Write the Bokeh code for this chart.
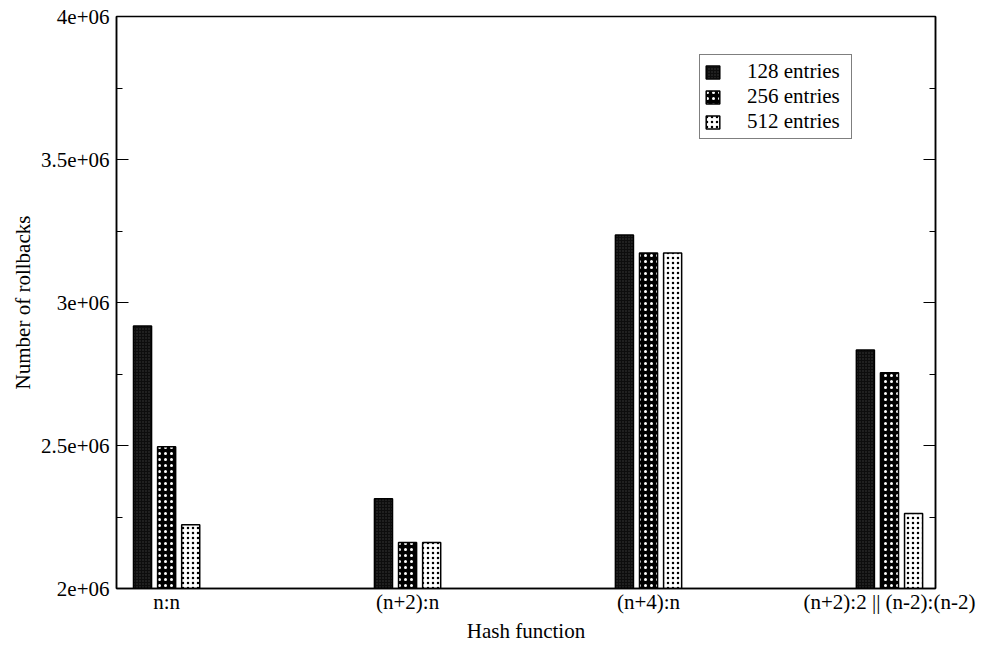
import numpy as np
from bokeh.plotting import figure
from bokeh.models import FixedTicker, LinearAxis, Legend, LegendItem, Range1d
from bokeh.embed import file_html
from bokeh.resources import INLINE

# ---- data ----
categories = ["n:n", "(n+2):n", "(n+4):n", "(n+2):2 || (n-2):(n-2)"]
series_names = ["128 entries", "256 entries", "512 entries"]
rollbacks_128 = [2918000, 2314000, 3236000, 2834000]
rollbacks_256 = [2496000, 2161000, 3173000, 2754000]
rollbacks_512 = [2223000, 2161000, 3173000, 2262000]
y_ticks = [2000000, 2500000, 3000000, 3500000, 4000000]
y_tick_labels = ["2e+06", "2.5e+06", "3e+06", "3.5e+06", "4e+06"]
y_minor_ticks = [2250000, 2750000, 3250000, 3750000]
y_min, y_max = 2000000, 4000000

FONT = "Liberation Serif"
FS = "21px"

group_x = np.arange(len(categories))
offsets = [-0.1, 0.0, 0.1]
bar_w = 0.075

p = figure(width=982, height=645, output_backend="svg", toolbar_location=None,
           x_range=Range1d(-0.208, 3.191), y_range=Range1d(y_min, y_max),
           min_border_left=116, min_border_right=47, min_border_top=16,
           min_border_bottom=56, background_fill_color="white",
           border_fill_color="white")
p.xgrid.visible = False
p.ygrid.visible = False
p.outline_line_color = "black"
p.outline_line_width = 1.5

styles = [
    dict(fill_color="#0d0d0d", hatch_pattern="dot", hatch_color="#3c3c3c",
         hatch_scale=3, hatch_weight=1),
    dict(fill_color="black", hatch_pattern="dot", hatch_color="white",
         hatch_scale=6, hatch_weight=3),
    dict(fill_color="white", hatch_pattern="dot", hatch_color="black",
         hatch_scale=5, hatch_weight=2.5),
]
series = [rollbacks_128, rollbacks_256, rollbacks_512]
renderers = []
for vals, off, st in zip(series, offsets, styles):
    r = p.vbar(x=group_x + off, top=vals, bottom=y_min, width=bar_w,
               line_color="black", line_width=1.5, **st)
    renderers.append(r)

# x axis
p.xaxis.ticker = FixedTicker(ticks=list(group_x))
p.xaxis.major_label_overrides = {int(i): c for i, c in zip(group_x, categories)}
p.xaxis.major_tick_line_color = None
p.xaxis.minor_tick_line_color = None
p.xaxis.axis_label = "Hash function"
p.xaxis.major_label_standoff = -5
p.xaxis.axis_label_standoff = 2

# y axis
p.yaxis.ticker = FixedTicker(ticks=y_ticks, minor_ticks=y_minor_ticks)
p.yaxis.major_label_overrides = {t: l for t, l in zip(y_ticks, y_tick_labels)}
p.yaxis.axis_label = "Number of rollbacks"
p.yaxis.major_label_standoff = 7
p.yaxis.axis_label_standoff = 3

right = LinearAxis(ticker=FixedTicker(ticks=y_ticks, minor_ticks=y_minor_ticks))
p.add_layout(right, "right")

for ax in [p.xaxis[0], p.yaxis[0], right]:
    ax.axis_line_color = "black"
    ax.axis_line_width = 1.5
    ax.major_label_text_font = FONT
    ax.major_label_text_font_size = FS
    ax.major_label_text_color = "black"
    ax.axis_label_text_font = FONT
    ax.axis_label_text_font_size = FS
    ax.axis_label_text_font_style = "normal"
    ax.axis_label_text_color = "black"

right.major_label_text_font_size = "0px"
right.major_label_text_alpha = 0

for ax in [p.yaxis[0], right]:
    ax.major_tick_in = 12
    ax.major_tick_out = 0
    ax.minor_tick_in = 6
    ax.minor_tick_out = 0
    ax.major_tick_line_color = "black"
    ax.minor_tick_line_color = "black"
    ax.major_tick_line_width = 1.2
    ax.minor_tick_line_width = 1.2

legend = Legend(items=[LegendItem(label=n, renderers=[r]) for n, r in zip(series_names, renderers)],
                location=(583, 449), border_line_color="black", border_line_width=1,
                background_fill_color="white", background_fill_alpha=1,
                label_text_font=FONT, label_text_font_size=FS, label_text_color="black",
                glyph_width=17, glyph_height=16, label_standoff=26,
                padding=4, spacing=0, label_height=21, label_width=100, margin=0)
p.add_layout(legend)

open("out.html", "w").write(file_html(p, INLINE))
